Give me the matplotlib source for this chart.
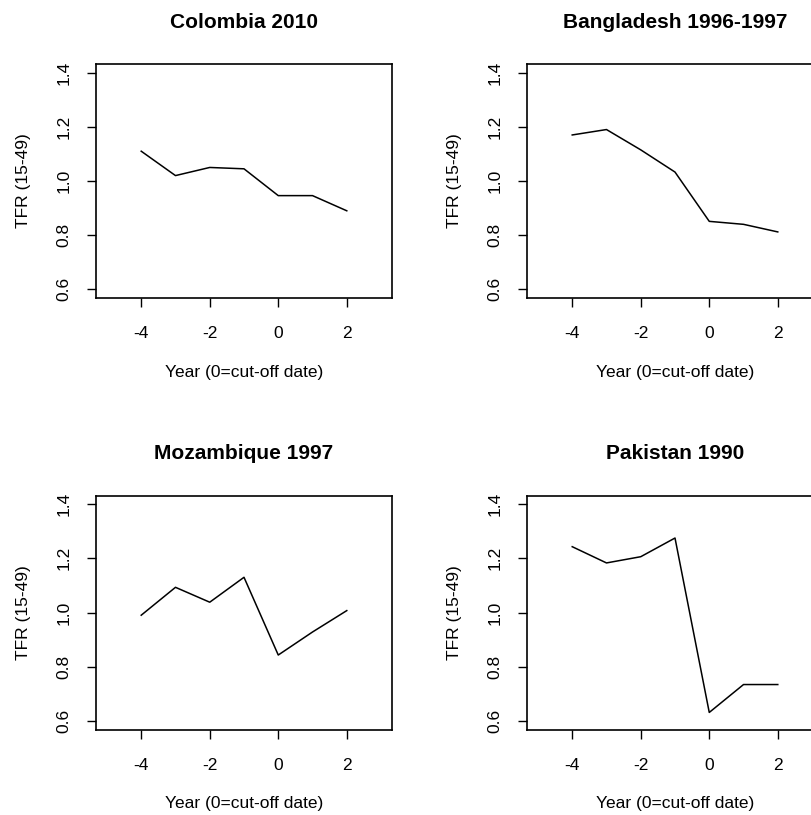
import matplotlib
matplotlib.use('Agg')
import matplotlib.pyplot as plt

plt.rcParams['font.family'] = ['Liberation Sans', 'DejaVu Sans']
plt.rcParams['axes.unicode_minus'] = False

years = [-4, -3, -2, -1, 0, 1, 2]
colombia = [1.11, 1.02, 1.05, 1.045, 0.946, 0.946, 0.89]
bangladesh = [1.17, 1.19, 1.115, 1.033, 0.851, 0.84, 0.812]
mozambique = [0.99, 1.093, 1.038, 1.13, 0.843, 0.928, 1.007]
pakistan = [1.243, 1.183, 1.206, 1.275, 0.631, 0.734, 0.734]

titles = ['Colombia 2010', 'Bangladesh 1996-1997', 'Mozambique 1997', 'Pakistan 1990']
series = [colombia, bangladesh, mozambique, pakistan]

xticks = [-4, -2, 0, 2]
yticks = [0.6, 0.8, 1.0, 1.2, 1.4]
ytick_labels = ['0.6', '0.8', '1.0', '1.2', '1.4']

W, H = 812, 815
fig = plt.figure(figsize=(W / 100, H / 100), dpi=100)

# panel boxes in pixels (left, top)
boxes = [(96, 64), (527, 64), (96, 495.5), (527, 495.5)]
bw, bh = 296, 234

for (left, top), title, vals in zip(boxes, titles, series):
    ax = fig.add_axes([left / W, 1 - (top + bh) / H, bw / W, bh / H])
    ax.plot(years, vals, color='black', lw=1.1)
    ax.set_xlim(-5.32, 3.32)
    ax.set_ylim(0.568, 1.432)
    ax.set_xticks(xticks)
    ax.set_xticklabels([str(t) for t in xticks])
    ax.set_yticks(yticks)
    ax.set_yticklabels(ytick_labels, rotation=90, va='center')
    ax.tick_params(length=6.5, width=1.0, labelsize=12.5, colors='black')
    ax.tick_params(axis='x', pad=14)
    ax.tick_params(axis='y', pad=11)
    for s in ax.spines.values():
        s.set_linewidth(1.2)
    ax.text(0.5, 1 + 42 / bh, title, transform=ax.transAxes, ha='center', va='center',
            fontsize=15, fontweight='bold')
    ax.text(0.5, -74 / bh, 'Year (0=cut-off date)', transform=ax.transAxes,
            ha='center', va='center', fontsize=12.5)
    ax.text(-72 / bw, 0.5, 'TFR (15-49)', transform=ax.transAxes, rotation=90,
            ha='center', va='center', fontsize=12.5)

fig.savefig('out.png', dpi=100, facecolor='white')
